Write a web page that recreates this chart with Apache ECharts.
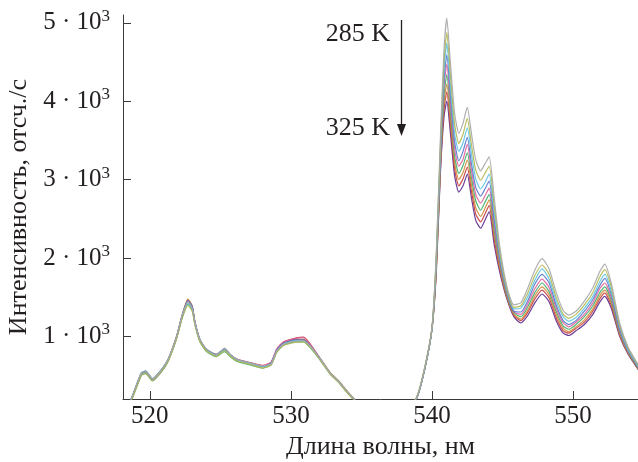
<!DOCTYPE html>
<html><head><meta charset="utf-8">
<script src="https://cdn.jsdelivr.net/npm/echarts@6/dist/echarts.min.js"></script>
<style>html,body{margin:0;padding:0;background:#fff}#c{width:638px;height:462px}</style>
</head><body><div id="c"></div>
<script>
const wavelengths = [518.0, 518.7, 519.4, 519.7, 520.2, 520.8, 521.3, 521.9, 522.3, 522.7, 523.0, 523.2, 523.55, 524.0, 524.7, 525.3, 525.7, 526.2, 527.1, 528.0, 528.6, 529.0, 529.5, 530.4, 530.9, 531.4, 532.1, 532.8, 533.4, 534.0, 535.0, 536.5, 538.0, 538.9, 539.5, 540.0,
  540.3, 540.6, 540.85, 541.05, 541.3, 541.6, 541.9, 542.2, 542.5, 542.8, 543.1, 543.45, 543.75, 544.05, 544.4, 544.8, 545.3, 545.8, 546.3, 546.8, 547.3, 547.8, 548.3, 548.8, 549.3, 549.7, 550.2, 550.8, 551.4, 551.9, 552.25, 552.7, 553.3, 553.9, 554.6, 555.0];

const temperatures = ['285 K', '290 K', '295 K', '300 K', '305 K', '310 K', '315 K', '320 K', '325 K'];

const curve285 = [-60, 210, 530, 550, 455, 565, 705, 1000, 1270, 1440, 1360, 1170, 960, 840, 765, 850, 770, 705, 660, 620, 650, 815, 900, 940, 945, 870, 705, 530, 420, 295, 110, 20, 60, 220, 620, 1120,
  2050, 3550, 4650, 5060, 4500, 3850, 3590, 3720, 3920, 3580, 3250, 3110, 3200, 3290, 2780, 2150, 1640, 1400, 1430, 1620, 1850, 1990, 1860, 1560, 1330, 1270, 1320, 1450, 1620, 1830, 1920, 1680, 1170, 860, 640, 520];
const curve290 = [-60, 185, 505, 530, 440, 550, 685, 975, 1235, 1395, 1320, 1140, 935, 815, 745, 815, 745, 685, 640, 595, 635, 795, 885, 925, 930, 855, 690, 515, 410, 280, 100, 20, 60, 215, 610, 1110,
  2010, 3470, 4510, 4880, 4350, 3710, 3460, 3580, 3780, 3440, 3120, 2990, 3080, 3170, 2680, 2090, 1610, 1370, 1390, 1560, 1780, 1910, 1790, 1500, 1280, 1230, 1280, 1400, 1560, 1760, 1850, 1630, 1140, 850, 630, 510];
const curve295 = [-60, 215, 535, 560, 460, 570, 710, 990, 1255, 1420, 1350, 1160, 955, 830, 755, 830, 760, 700, 655, 615, 655, 810, 905, 945, 940, 865, 700, 525, 420, 290, 110, 20, 60, 210, 600, 1100,
  1970, 3410, 4380, 4740, 4210, 3590, 3360, 3470, 3660, 3320, 3010, 2880, 2960, 3070, 2600, 2040, 1590, 1350, 1360, 1510, 1720, 1860, 1730, 1450, 1250, 1190, 1240, 1360, 1510, 1700, 1790, 1580, 1120, 830, 620, 510];
const curve300 = [-60, 200, 520, 545, 455, 565, 700, 995, 1265, 1460, 1380, 1180, 955, 835, 770, 835, 765, 700, 660, 615, 660, 825, 915, 955, 955, 875, 705, 525, 420, 290, 110, 20, 60, 205, 595, 1095,
  1940, 3350, 4270, 4590, 4100, 3490, 3240, 3360, 3540, 3200, 2900, 2790, 2880, 2980, 2510, 2000, 1570, 1320, 1310, 1460, 1670, 1790, 1680, 1400, 1200, 1150, 1200, 1320, 1470, 1650, 1740, 1540, 1090, 820, 610, 500];
const curve305 = [-60, 195, 515, 540, 440, 550, 695, 985, 1255, 1450, 1375, 1175, 945, 825, 755, 825, 760, 705, 665, 630, 675, 840, 930, 975, 985, 890, 705, 520, 415, 285, 105, 20, 60, 210, 600, 1100,
  1910, 3290, 4180, 4470, 3990, 3390, 3170, 3260, 3450, 3110, 2810, 2700, 2790, 2890, 2440, 1960, 1550, 1310, 1280, 1420, 1610, 1730, 1620, 1360, 1170, 1120, 1180, 1280, 1430, 1610, 1680, 1500, 1070, 810, 610, 500];
const curve310 = [-60, 180, 500, 525, 430, 540, 680, 970, 1235, 1410, 1345, 1150, 930, 810, 740, 805, 740, 680, 635, 595, 635, 800, 890, 930, 930, 850, 690, 515, 410, 280, 100, 20, 60, 210, 600, 1100,
  1880, 3240, 4070, 4340, 3890, 3300, 3080, 3180, 3340, 3020, 2730, 2610, 2710, 2810, 2370, 1930, 1530, 1300, 1250, 1380, 1560, 1680, 1570, 1320, 1130, 1090, 1150, 1250, 1390, 1560, 1630, 1460, 1050, 800, 600, 490];
const curve315 = [-60, 210, 530, 555, 460, 570, 710, 1000, 1275, 1475, 1390, 1185, 960, 840, 770, 835, 765, 700, 655, 615, 655, 820, 915, 955, 960, 875, 710, 535, 430, 300, 115, 20, 60, 210, 600, 1100,
  1850, 3200, 3980, 4220, 3790, 3220, 3000, 3090, 3250, 2930, 2640, 2530, 2630, 2740, 2310, 1890, 1510, 1280, 1220, 1340, 1520, 1630, 1530, 1280, 1100, 1060, 1120, 1210, 1350, 1520, 1590, 1430, 1030, 790, 590, 490];
const curve320 = [-60, 200, 520, 545, 450, 560, 700, 990, 1260, 1455, 1370, 1170, 950, 830, 760, 840, 760, 700, 660, 625, 665, 835, 930, 980, 990, 895, 710, 525, 420, 290, 110, 20, 60, 210, 600, 1100,
  1830, 3150, 3890, 4120, 3700, 3140, 2920, 3010, 3160, 2850, 2560, 2460, 2560, 2670, 2250, 1860, 1500, 1270, 1200, 1310, 1480, 1590, 1490, 1240, 1070, 1040, 1100, 1180, 1320, 1480, 1550, 1400, 1020, 780, 590, 480];
const curve325 = [-60, 205, 530, 555, 455, 565, 705, 1000, 1275, 1465, 1385, 1180, 955, 835, 765, 835, 765, 705, 660, 620, 660, 825, 915, 960, 960, 875, 705, 530, 420, 290, 110, 20, 60, 205, 595, 1095,
  1800, 3100, 3800, 4000, 3600, 3050, 2840, 2920, 3070, 2760, 2480, 2380, 2480, 2590, 2180, 1820, 1480, 1250, 1170, 1270, 1430, 1540, 1440, 1200, 1040, 1010, 1070, 1150, 1280, 1440, 1510, 1360, 1000, 770, 580, 480];

const curves = [curve285, curve290, curve295, curve300, curve305, curve310, curve315, curve320, curve325];
const colors = ['#a6a6a6', '#b3b84f', '#5ec3e0', '#5577cc', '#e0609a', '#3fae6a', '#cf8a3a', '#c63c3c', '#5a2a8c'];

const xTicks = [520, 530, 540, 550];
const yTicks = [1000, 2000, 3000, 4000, 5000];

const FONT = 'Liberation Serif';
const TXT = '#231f20';

const chart = echarts.init(document.getElementById('c'), null, {renderer: 'canvas'});

const series = curves.map((vals, k) => ({
  name: temperatures[k],
  type: 'line',
  data: wavelengths.map((w, i) => [w, vals[i]]),
  showSymbol: false,
  smooth: 0.2,
  lineStyle: {width: 1.2, color: colors[k], opacity: 0.9},
  itemStyle: {color: colors[k]},
  animation: false,
  z: 2
})).reverse();

chart.setOption({
  animation: false,
  grid: {left: 123, right: 0, top: 15, bottom: 63, containLabel: false, outerBoundsMode: 'none'},
  xAxis: {
    type: 'value', min: 518.1, max: 554.6,
    name: 'Длина волны, нм', nameLocation: 'middle', nameGap: 30,
    nameTextStyle: {fontFamily: FONT, fontSize: 26, color: TXT},
    axisLine: {show: true, onZero: false, lineStyle: {color: '#3a3a3a', width: 1}},
    axisTick: {show: true, inside: true, length: 8, customValues: xTicks, lineStyle: {color: '#3a3a3a'}},
    axisLabel: {customValues: xTicks, fontFamily: FONT, fontSize: 25, color: TXT, margin: 5},
    splitLine: {show: false}
  },
  yAxis: {
    type: 'value', min: 200, max: 5100,
    name: 'Интенсивность, отсч./с', nameLocation: 'middle', nameGap: 90, nameRotate: 90,
    nameTextStyle: {fontFamily: FONT, fontSize: 26, color: TXT},
    axisLine: {show: true, lineStyle: {color: '#3a3a3a', width: 1}},
    axisTick: {show: true, inside: true, length: 8, customValues: yTicks, lineStyle: {color: '#3a3a3a'}},
    axisLabel: {customValues: yTicks, color: TXT, margin: 13,
      formatter: v => '{a|' + (v / 1000) + ' · 10}{b|3}',
      rich: {
        a: {fontFamily: FONT, fontSize: 25, color: TXT, lineHeight: 30},
        b: {fontFamily: FONT, fontSize: 17, color: TXT, verticalAlign: 'top', lineHeight: 17}
      }},
    splitLine: {show: false}
  },
  graphic: [
    {type: 'text', x: 390, y: 34, style: {text: '285 K', font: '26px "Liberation Serif"', fill: TXT, textAlign: 'right', textVerticalAlign: 'middle'}},
    {type: 'text', x: 390, y: 128, style: {text: '325 K', font: '26px "Liberation Serif"', fill: TXT, textAlign: 'right', textVerticalAlign: 'middle'}},
    {type: 'line', shape: {x1: 401.5, y1: 20, x2: 401.5, y2: 128}, style: {stroke: '#231f20', lineWidth: 1.3}},
    {type: 'polygon', shape: {points: [[397, 124], [406, 124], [401.5, 136]]}, style: {fill: '#231f20'}}
  ],
  series: series
});
</script>
</body></html>
